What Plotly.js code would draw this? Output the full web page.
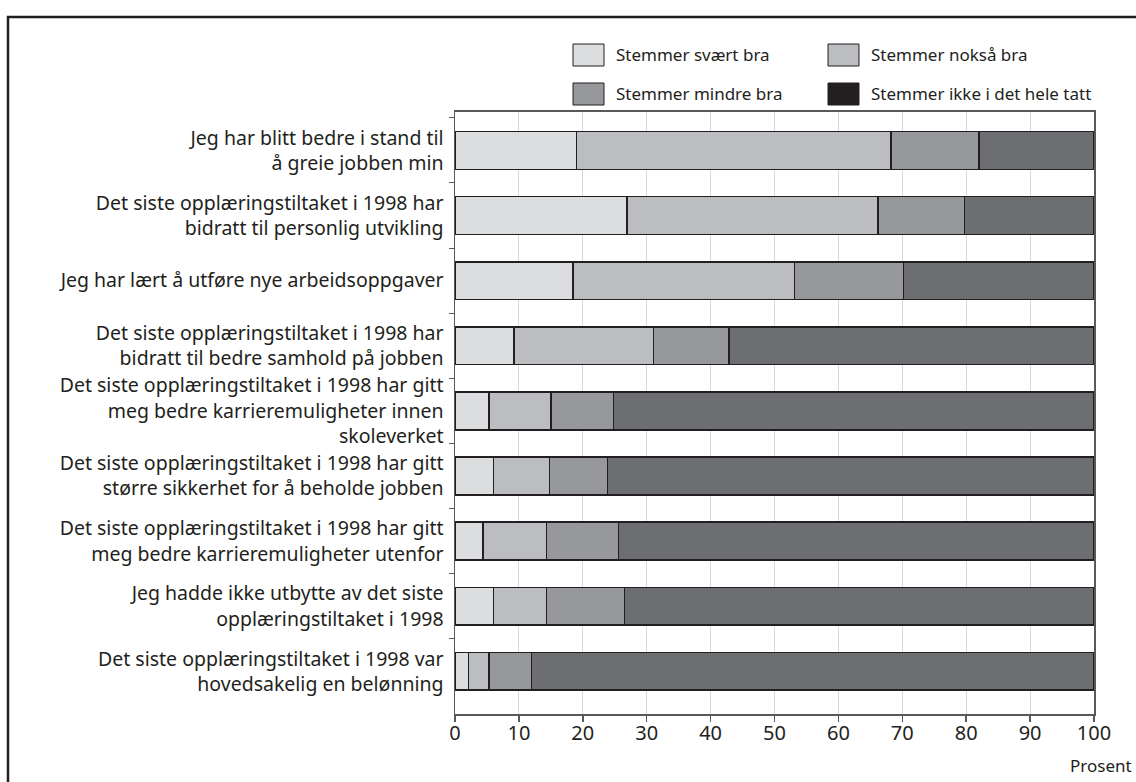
<!DOCTYPE html>
<html><head><meta charset="utf-8">
<script src="https://cdn.plot.ly/plotly-3.0.1.min.js"></script>
<style>body{margin:0;background:#fff}</style>
</head><body><div id="chart" style="width:1136px;height:782px"></div>
<script>
const categories = [
  "Jeg har blitt bedre i stand til<br>å greie jobben min",
  "Det siste opplæringstiltaket i 1998 har<br>bidratt til personlig utvikling",
  "Jeg har lært å utføre nye arbeidsoppgaver",
  "Det siste opplæringstiltaket i 1998 har<br>bidratt til bedre samhold på jobben",
  "Det siste opplæringstiltaket i 1998 har gitt<br>meg bedre karrieremuligheter innen<br>skoleverket",
  "Det siste opplæringstiltaket i 1998 har gitt<br>større sikkerhet for å beholde jobben",
  "Det siste opplæringstiltaket i 1998 har gitt<br>meg bedre karrieremuligheter utenfor",
  "Jeg hadde ikke utbytte av det siste<br>opplæringstiltaket i 1998",
  "Det siste opplæringstiltaket i 1998 var<br>hovedsakelig en belønning"
];
const seriesNames = ["Stemmer svært bra", "Stemmer nokså bra", "Stemmer mindre bra", "Stemmer ikke i det hele tatt"];
const svaertBra   = [19.0, 26.9, 18.5,  9.2,  5.3,  6.0,  4.4,  6.0,  2.1];
const noksaBra    = [49.2, 39.3, 34.6, 21.9,  9.7,  8.8,  9.9,  8.3,  3.2];
const mindreBra   = [13.8, 13.5, 17.1, 11.8,  9.8,  9.1, 11.3, 12.2,  6.7];
const ikkeBra     = [18.0, 20.3, 29.8, 57.1, 75.2, 76.1, 74.4, 73.5, 88.0];
const xTickVals   = [0, 10, 20, 30, 40, 50, 60, 70, 80, 90, 100];
const xTitle = "Prosent";

const barColors = ["#dcdddf", "#bcbdc0", "#97989b", "#6d6e71"];
const legendColors = ["#dcdddf", "#bcbdc0", "#97989b", "#231f20"];
const seriesValues = [svaertBra, noksaBra, mindreBra, ikkeBra];

const W = 1136, H = 782, ML = 455, MR = 42, MT = 112, MB = 68;
const PW = W - ML - MR, PH = H - MT - MB;
const px = x => (x - ML) / PW;
const py = y => (H - MB - y) / PH;
const FONT = "Noto Sans, Open Sans, sans-serif";
const INK = "#231f20";

const traces = seriesValues.map((vals, i) => ({
  type: "bar", orientation: "h", name: seriesNames[i],
  x: vals, y: categories, showlegend: false,
  marker: {color: barColors[i], line: {color: INK, width: 1.5}},
  hoverinfo: "x+name"
}));

const shapes = [
  {type: "rect", xref: "paper", yref: "paper", x0: px(8), x1: px(1142), y0: py(792), y1: py(17),
   line: {color: INK, width: 2.5}, fillcolor: "rgba(0,0,0,0)", layer: "below"}
];
const annotations = [
  {xref: "paper", yref: "paper", x: px(1134), y: py(765), xanchor: "right", yanchor: "middle",
   text: xTitle, showarrow: false, font: {family: FONT, size: 17, color: INK}}
];
const legendPos = [[573, 55], [828, 55], [573, 94], [828, 94]];
seriesNames.forEach((n, i) => {
  const [lx, ly] = legendPos[i];
  shapes.push({type: "rect", xref: "paper", yref: "paper", x0: px(lx), x1: px(lx + 31), y0: py(ly + 11), y1: py(ly - 11),
    line: {color: INK, width: 1}, fillcolor: legendColors[i]});
  annotations.push({xref: "paper", yref: "paper", x: px(lx + 41), y: py(ly), xanchor: "left", yanchor: "middle",
    text: n, showarrow: false, font: {family: FONT, size: 17, color: INK}});
});

const layout = {
  width: W, height: H,
  margin: {l: ML, r: MR, t: MT, b: MB, pad: 0},
  paper_bgcolor: "#fff", plot_bgcolor: "#fff",
  barmode: "stack", bargap: 0.42,
  font: {family: FONT, size: 17, color: INK},
  xaxis: {range: [0, 100], tickvals: xTickVals, ticks: "outside", ticklen: 6, tickcolor: "#58595b", tickwidth: 1.5,
    showgrid: true, gridcolor: "#d9d9d9", gridwidth: 1, showline: true, linecolor: "#58595b", linewidth: 2,
    mirror: true, zeroline: false, tickfont: {family: FONT, size: 20, color: INK}, ticklabelstandoff: -6,
    fixedrange: true},
  yaxis: {type: "category", range: [8.655, -0.59], ticks: "outside", tickson: "boundaries", ticklen: 5,
    tickcolor: "#58595b", showline: true, linecolor: "#58595b", linewidth: 1.5, mirror: true, showgrid: false,
    tickfont: {family: FONT, size: 19.5, color: INK}, ticklabelstandoff: 6, fixedrange: true},
  shapes: shapes, annotations: annotations
};
Plotly.newPlot("chart", traces, layout, {displayModeBar: false, staticPlot: true});
</script></body></html>
